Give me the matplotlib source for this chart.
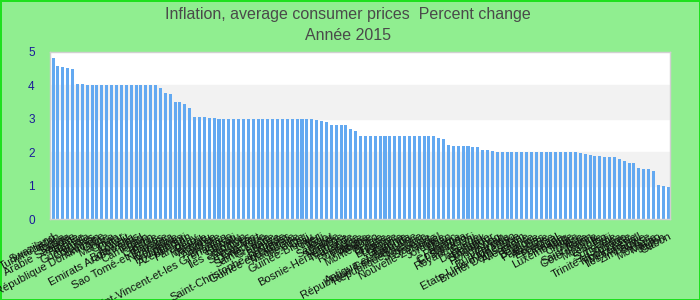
import matplotlib
matplotlib.use("Agg")
import matplotlib.pyplot as plt
import numpy as np

plt.rcParams["font.family"] = ["Liberation Sans", "DejaVu Sans"]

TITLE = "Inflation, average consumer prices  Percent change"
SUBTITLE = "Année 2015"

countries = [
    "Swaziland", "Turkménistan", "Tonga", "Samoa", "Arabie Saoudite",
    "Algérie", "Tunisie", "Guatemala", "Comores", "Bahreïn",
    "République Dominicaine", "Chine", "Maurice", "Oman", "Qatar",
    "Koweït", "Botswana", "Emirats Arabes Unis", "Tchad", "Cameroun",
    "Bénin", "Gambie", "Palaos", "Sao Tomé-et-Principe", "Nicaragua",
    "Colombie", "Philippines", "Djibouti", "Azerbaïdjan", "Paraguay",
    "Pérou", "Malaisie", "Vanuatu", "Corée", "Australie",
    "Bhoutan", "Saint-Vincent-et-les Grenadines", "Kiribati", "Tuvalu", "Îles Salomon",
    "Maldives", "Seychelles", "Cap-Vert", "Dominique", "Sainte-Lucie",
    "Grenade", "Belize", "Barbade", "Saint-Christophe-et-Niévès", "Guinée équatoriale",
    "Macédoine", "Mexique", "Chili", "Guinée-Bissau", "Niger",
    "Mali", "Togo", "Sénégal", "Islande", "Norvège",
    "Bosnie-Herzégovine", "Thaïlande", "Hongrie", "Roumanie", "Pologne",
    "Albanie", "Monténégro", "Serbie", "Croatie", "Bulgarie",
    "Lettonie", "Lituanie", "Estonie", "Antigua-et-Barbuda", "République Centrafricaine",
    "République tchèque", "Slovaquie", "Slovénie", "Nouvelle-Zélande", "Israël",
    "Jordanie", "Liban", "Maroc", "Panama", "Costa Rica",
    "El Salvador", "Royaume-Uni", "Suède", "Danemark", "Finlande",
    "Singapour", "Hong Kong", "Taïwan", "Canada", "Burkina Faso",
    "Etats-Unis d'Amérique", "Brunéi Darussalam", "Allemagne", "France", "Belgique",
    "Pays-Bas", "Autriche", "Espagne", "Portugal", "Irlande",
    "Luxembourg", "Malte", "Chypre", "Grèce", "Italie",
    "Saint-Marin", "Côte d'Ivoire", "Mongolie", "Lesotho", "Fidji",
    "Suriname", "Guyana", "Trinité-et-Tobago", "Timor-Leste", "Micronésie",
    "Îles Marshall", "Zimbabwe", "Suisse", "Moldavie", "Macao",
    "Japon", "Gabon",
]

inflation = [
    4.81, 4.57, 4.54, 4.51, 4.48, 4.03, 4.03, 4.00, 4.00, 4.00,
    4.00, 4.00, 4.00, 4.00, 4.00, 4.00, 4.00, 4.00, 4.00, 4.00,
    4.00, 4.00, 3.91, 3.76, 3.73, 3.50, 3.50, 3.44, 3.32, 3.05,
    3.05, 3.05, 3.02, 3.02, 3.00, 3.00, 3.00, 3.00, 3.00, 3.00,
    3.00, 3.00, 3.00, 3.00, 3.00, 3.00, 3.00, 3.00, 3.00, 3.00,
    3.00, 3.00, 3.00, 3.00, 2.97, 2.94, 2.91, 2.82, 2.82, 2.82,
    2.82, 2.70, 2.64, 2.50, 2.50, 2.50, 2.50, 2.50, 2.50, 2.50,
    2.50, 2.50, 2.50, 2.50, 2.50, 2.50, 2.50, 2.50, 2.48, 2.43,
    2.40, 2.21, 2.18, 2.18, 2.18, 2.18, 2.15, 2.15, 2.06, 2.06,
    2.03, 2.00, 2.00, 2.00, 2.00, 2.00, 2.00, 2.00, 2.00, 2.00,
    2.00, 2.00, 2.00, 2.00, 2.00, 2.00, 2.00, 2.00, 1.97, 1.94,
    1.91, 1.88, 1.88, 1.85, 1.85, 1.85, 1.79, 1.73, 1.67, 1.67,
    1.52, 1.49, 1.49, 1.43, 1.01, 0.98, 0.95,
]

y_ticks = [0, 1, 2, 3, 4, 5]

BG = "#90EE90"
BAR = "#63A9F1"

fig = plt.figure(figsize=(7, 3), dpi=100)
fig.patch.set_facecolor(BG)
fig.patch.set_edgecolor("#1EE01E")
fig.patch.set_linewidth(2)

ax = fig.add_axes([50 / 700, 81 / 300, 620 / 700, 167 / 300])
ax.set_facecolor("white")

# alternating bands like the original
for lo in (1, 3):
    ax.axhspan(lo, lo + 1, color="#F2F2F2", zorder=0)

x = np.arange(len(inflation))
ax.bar(x, inflation, width=0.62, color=BAR, zorder=2)

ax.set_xlim(-0.62, len(inflation) - 0.62)
ax.set_ylim(0, 5)
ax.set_yticks(y_ticks)
ax.set_yticklabels([str(t) for t in y_ticks], color="#1A1A9A", fontsize=8.5)
ax.tick_params(axis="y", length=0, pad=11)

ax.set_xticks(x)
ax.set_xticklabels(countries, rotation=28, ha="right", va="top",
                   rotation_mode="anchor", fontsize=8, color="#111111")
ax.tick_params(axis="x", length=0, pad=9)

for spine in ax.spines.values():
    spine.set_color("#D0D0D0")
    spine.set_linewidth(1)

fig.text(0.497, 1 - 14 / 300, TITLE, ha="center", va="center",
         fontsize=11.5, color="#4A4A4A")
fig.text(0.497, 1 - 36 / 300, SUBTITLE, ha="center", va="center",
         fontsize=11.5, color="#4A4A4A")

fig.savefig("out.png", dpi=100, facecolor=fig.get_facecolor(),
            edgecolor=fig.get_edgecolor())
